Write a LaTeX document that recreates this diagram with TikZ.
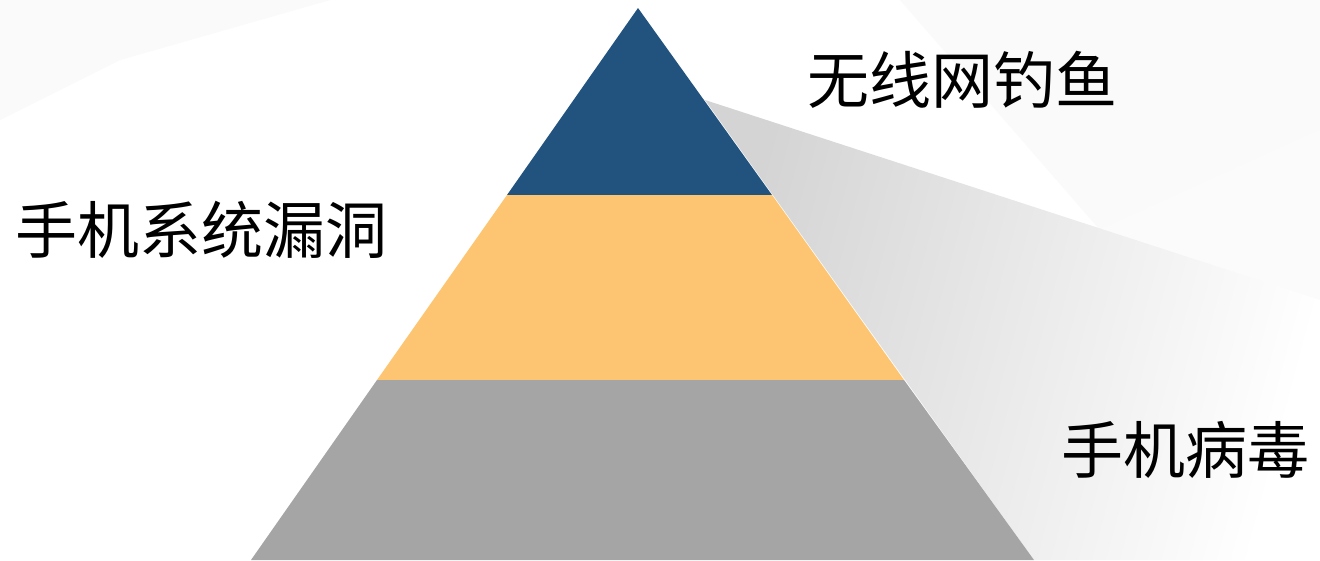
\documentclass[tikz,border=0pt]{standalone}
\usepackage{fontspec}
\newfontfamily\cjk{Noto Sans CJK SC}
\usetikzlibrary{positioning}
\definecolor{topblue}{HTML}{22537F}
\definecolor{midyellow}{HTML}{FDC571}
\definecolor{lowgray}{HTML}{A5A5A5}

\begin{document}
\begin{tikzpicture}[x=1pt,y=-1pt,
    label/.style={font=\cjk\fontsize{62}{70}\selectfont, inner sep=0pt, text=black},
    layer/.style={draw=none}]
      \useasboundingbox (0,0) rectangle (1320,560);
      \fill[white] (0,0) rectangle (1320,560);
      % faint background facets
      \fill[black!2] (0,0) -- (330,0) -- (120,60) -- (0,120) -- cycle;
      \fill[black!2] (900,0) -- (1320,0) -- (1320,130) -- (1100,230) -- cycle;
      \fill[black!1.5] (1100,230) -- (1320,130) -- (1320,300) -- cycle;
      % shadow behind the pyramid
      \shade[left color=black!17, right color=white, shading angle=75]
            (705,100) -- (1320,300) -- (1320,560) -- (1034,560) -- cycle;

      \coordinate (apex)  at (638,8);
      \coordinate (l1)    at (507,195);
      \coordinate (r1)    at (772,195);
      \coordinate (l2)    at (377,380);
      \coordinate (r2)    at (904,380);
      \coordinate (l3)    at (251,560);
      \coordinate (r3)    at (1034,560);

      \fill[layer,topblue]   (apex) -- (r1) -- (l1) -- cycle;
      \fill[layer,midyellow] (l1) -- (r1) -- (r2) -- (l2) -- cycle;
      \fill[layer,lowgray]   (l2) -- (r2) -- (r3) -- (l3) -- cycle;

      \node[label]  (phishing)  at (962,80)   {无线网钓鱼};
      \node[label]  (loophole)  at (202,230)  {手机系统漏洞};
      \node[label]  (virus)     at (1185,450) {手机病毒};
\end{tikzpicture}
\end{document}
